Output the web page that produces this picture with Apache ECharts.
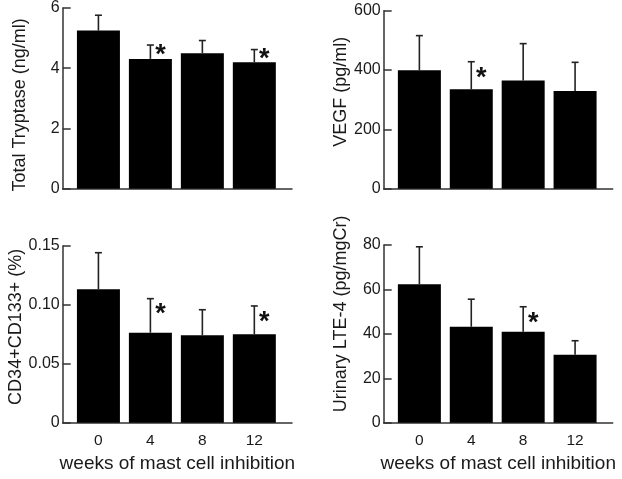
<!DOCTYPE html>
<html>
<head>
<meta charset="utf-8">
<script src="https://cdn.jsdelivr.net/npm/echarts@6/dist/echarts.min.js"></script>
<style>
html,body{margin:0;padding:0;background:#fff;}
#chart{width:622px;height:479px;}
</style>
</head>
<body>
<div id="chart"></div>
<script>
// ---- data ----
const weeks = [0, 4, 8, 12];
const weekLabels = ['0', '4', '8', '12'];

const tryptase = [5.25, 4.31, 4.50, 4.20];
const tryptaseErrTop = [5.76, 4.77, 4.92, 4.62];
const tryptaseStars = [[4, 4.64], [12, 4.50]];

const vegf = [399, 335, 365, 329];
const vegfErrTop = [516, 428, 489, 426];
const vegfStars = [[4, 392]];

const cd34 = [0.1133, 0.0764, 0.0742, 0.0750];
const cd34ErrTop = [0.1443, 0.1053, 0.0959, 0.0991];
const cd34Stars = [[4, 0.0976], [12, 0.0906]];

const lte4 = [62.3, 43.2, 41.0, 30.6];
const lte4ErrTop = [79.2, 55.6, 52.2, 36.9];
const lte4Stars = [[8, 47.7]];

const xName = 'weeks of mast cell inhibition';

// ---- panels ----
const panels = [
  { name: 'Total Tryptase (ng/ml)', vals: tryptase, err: tryptaseErrTop, stars: tryptaseStars,
    max: 6, interval: 2, fmt: v => String(v),
    grid: { left: 62.7, top: 8, width: 229.3, height: 180.7 }, showX: false, namePad: [0, 13, 0, 0] },
  { name: 'VEGF (pg/ml)', vals: vegf, err: vegfErrTop, stars: vegfStars,
    max: 600, interval: 200, fmt: v => String(v),
    grid: { left: 383.7, top: 10.7, width: 229, height: 178 }, showX: false, namePad: [0, 0, 0, 16] },
  { name: 'CD34+CD133+ (%)', vals: cd34, err: cd34ErrTop, stars: cd34Stars,
    max: 0.15, interval: 0.05, fmt: v => (v === 0 ? '0' : v.toFixed(2)),
    grid: { left: 62.7, top: 246, width: 229.3, height: 176.7 }, showX: true, namePad: [0, 0, 0, 15] },
  { name: 'Urinary LTE-4 (pg/mgCr)', vals: lte4, err: lte4ErrTop, stars: lte4Stars,
    max: 80, interval: 20, fmt: v => String(v),
    grid: { left: 383.7, top: 245, width: 229, height: 177.7 }, showX: true, namePad: [0, 0, 0, 40] }
];

const FONT = '"Liberation Sans", Arial, Helvetica, sans-serif';
const TXT = '#1a1a1a';
const AX = '#333';

const grid = [], xAxis = [], yAxis = [], series = [];
panels.forEach((p, i) => {
  grid.push(Object.assign({ containLabel: false }, p.grid));
  xAxis.push({
    type: 'value', gridIndex: i, min: -2.75, max: 14.9,
    axisLine: { show: true, onZero: false, lineStyle: { color: AX, width: 1.5 } },
    axisTick: { show: false },
    splitLine: { show: false },
    axisLabel: {
      show: p.showX, customValues: weeks, margin: 10,
      fontSize: 15.5, color: TXT, fontFamily: FONT,
      formatter: v => weekLabels[weeks.indexOf(v)] || ''
    },
    name: p.showX ? xName : '', nameLocation: 'middle', nameGap: 32,
    nameTextStyle: { fontSize: 19, color: TXT, fontFamily: FONT }
  });
  yAxis.push({
    type: 'value', gridIndex: i, min: 0, max: p.max, interval: p.interval,
    axisLine: { show: true, onZero: false, lineStyle: { color: AX, width: 1.5 } },
    axisTick: { show: true, inside: true, length: 8, lineStyle: { color: AX, width: 1.5 } },
    splitLine: { show: false },
    axisLabel: { margin: 3, fontSize: 16, color: TXT, fontFamily: FONT, formatter: p.fmt },
    name: p.name, nameLocation: 'middle', nameGap: 34, nameRotate: 90,
    nameTextStyle: { fontSize: 18, color: TXT, fontFamily: FONT, padding: p.namePad }
  });
  series.push({
    type: 'bar', xAxisIndex: i, yAxisIndex: i, barWidth: 43,
    itemStyle: { color: '#000' }, silent: true,
    data: weeks.map((w, k) => [w, p.vals[k]])
  });
  series.push({
    type: 'custom', xAxisIndex: i, yAxisIndex: i, silent: true, z: 3,
    data: weeks.map((w, k) => [w, p.vals[k], p.err[k]]),
    renderItem: (params, api) => {
      const lo = api.coord([api.value(0), api.value(1)]);
      const hi = api.coord([api.value(0), api.value(2)]);
      const st = { stroke: '#222', lineWidth: 1.6 };
      return { type: 'group', children: [
        { type: 'line', shape: { x1: lo[0], y1: lo[1], x2: hi[0], y2: hi[1] }, style: st },
        { type: 'line', shape: { x1: hi[0] - 3.5, y1: hi[1], x2: hi[0] + 3.5, y2: hi[1] }, style: st }
      ]};
    }
  });
  series.push({
    type: 'custom', xAxisIndex: i, yAxisIndex: i, silent: true, z: 4,
    data: p.stars,
    renderItem: (params, api) => {
      const c = api.coord([api.value(0), api.value(1)]);
      return { type: 'text', style: {
        text: '*', x: c[0] + 10, y: c[1] + 6.5,
        font: 'bold 27px ' + FONT, fill: '#111', align: 'center', verticalAlign: 'middle'
      }};
    }
  });
});

const chart = echarts.init(document.getElementById('chart'), null, { renderer: 'canvas' });
chart.setOption({ animation: false, backgroundColor: '#fff', grid, xAxis, yAxis, series });
</script>
</body>
</html>
